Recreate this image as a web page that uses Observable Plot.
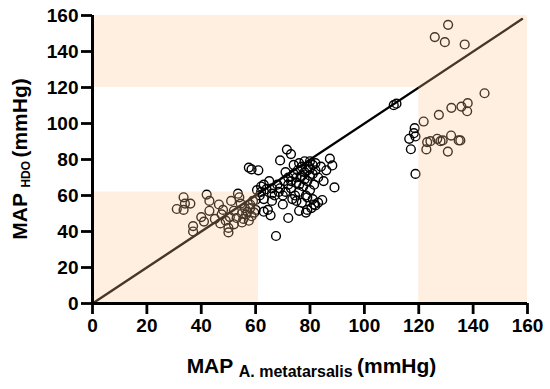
<!DOCTYPE html>
<html><head><meta charset="utf-8">
<script src="https://cdn.jsdelivr.net/npm/d3@7"></script>
<script src="https://cdn.jsdelivr.net/npm/@observablehq/plot@0.6"></script>
<style>
body{margin:0;background:#fff;}
svg{display:block}
</style>
</head><body><div id="chart"></div>
<script>
// MAP A. metatarsalis (x) vs MAP HDO (y), mmHg
const lowerLeftPts = [[31,52.5],[33.5,59],[34,55.5],[33.5,52],[36,55.5],[37,43],[37,40],[40,48],[41,45.5],[42,60.5],[43,57],[43,51.5],[46.5,55],[47,44.5],[47.5,49.5],[49,46],[50,39.5],[50.5,48],[51,57],[52,51.5],[53,47.5],[53.5,61],[54,59],[54.5,55.5],[55,50],[55.5,47],[56,53],[56.5,49.5],[57,51],[57.5,46],[58,53],[58.5,48.5],[59,57],[59.5,50.5],[60,52],[55,45],[52,44],[45,47],[48,52],[50,42],[58,55],[60,57.5]];
const centerPts = [[57.5,75.5],[58.5,74.5],[61,74],[60.5,63],[62,65],[61.5,60],[63,58],[63,51],[64.5,52],[65.5,49],[64,63.5],[66,64],[67.5,37.5],[66,57],[67,60],[68,66],[68.5,62],[69,79.5],[70,55],[70.5,68],[71,62],[71.5,85.5],[72,47.5],[72,70],[73,83],[73,64],[73.5,58],[74,72],[74.5,60],[75,67],[75.5,74],[76,62],[76,51.5],[76.5,70],[77,76],[77.5,65],[78.5,50.5],[78,73],[78.5,60],[79,68],[79.5,76],[80,71],[80,63],[80.5,53],[81,77],[81.5,66],[82,74],[82,54.5],[83,56],[83,70],[84,76],[84.5,57.5],[85,68],[86,74],[87.3,80.5],[88.2,76.7],[89,64.5],[75,57],[77,56],[79,59],[81,58],[74,77],[76,78],[78,79],[80,79],[82,78],[72,66],[70,60],[69,64],[66,61],[62,62],[65,68],[63,66],[79,52],[81.5,55],[77,71],[79,74],[75,70],[73,68],[71,73],[80,75],[78,69],[76,66],[81,72]];
const nearLinePts = [[110.8,110.2],[111.8,111]];
const upperRightPts = [[130.8,154.8],[125.9,148],[129.6,145.2],[136.9,143.9]];
const rightPts = [[144.2,116.8],[132,108.7],[135.7,109.4],[138,111.3],[137.8,106.8],[127.4,104.8],[121.8,101.1],[118.5,97.4],[118.2,94.6],[116.5,91.5],[118.8,92.8],[117.1,85.7],[123.1,89.6],[122.8,85.6],[124.3,90.2],[126.8,91.5],[128,90.2],[128.8,90.6],[131.9,93.3],[134.7,90.6],[135.3,90.6],[130.7,84.4],[118.8,72]];

const xTicks = [0,20,40,60,80,100,120,140,160];
const yTicks = [0,20,40,60,80,100,120,140,160];
const identityX = [0,158];
const zoneX1 = [0,0,120];
const zoneX2 = [61,160,160];
const zoneY1 = [0,120,0];
const zoneY2 = [62,160,120];

const points = [...lowerLeftPts, ...centerPts, ...nearLinePts, ...upperRightPts, ...rightPts].map(([x,y]) => ({x,y}));
const identity = identityX.map(v => ({x:v, y:v}));
const zones = zoneX1.map((_,i) => ({x1:zoneX1[i], x2:zoneX2[i], y1:zoneY1[i], y2:zoneY2[i]}));

const FONT = "'Liberation Sans', Arial, Helvetica, sans-serif";

const plot = Plot.plot({
  width: 550, height: 389,
  marginLeft: 92, marginRight: 23, marginTop: 15, marginBottom: 86,
  style: {fontFamily: FONT, fontSize: "19px", fontWeight: "bold", color: "#000", background: "#fff"},
  x: {domain: [0,160]},
  y: {domain: [0,160]},
  marks: [
    Plot.dot(points, {x:"x", y:"y", r:4.4, stroke:"#000", strokeWidth:1.4, fill:"none"}),
    Plot.line(identity, {x:"x", y:"y", stroke:"#000", strokeWidth:2.4}),
    Plot.rect(zones, {x1:"x1", x2:"x2", y1:"y1", y2:"y2", fill:"rgb(250,196,143)", fillOpacity:0.28}),
    Plot.ruleX([0], {stroke:"#000", strokeWidth:3}),
    Plot.ruleY([0], {stroke:"#000", strokeWidth:3}),
    Plot.axisX({ticks: xTicks, tickSize: 11, tickPadding: 4, strokeWidth: 2.8, label: null, fontSize: 19, fontWeight: "bold"}),
    Plot.axisY({ticks: yTicks, tickSize: 11, tickPadding: 3, strokeWidth: 2.8, label: null, fontSize: 19, fontWeight: "bold"})
  ]
});
document.getElementById("chart").appendChild(plot);

const sx = plot.scale("x"), sy = plot.scale("y");
const svg = d3.select(plot);
const xMid = (sx.apply(0) + sx.apply(160)) / 2;
const yMid = (sy.apply(0) + sy.apply(160)) / 2;

const xt = svg.append("text")
  .attr("x", xMid + 2).attr("y", 373)
  .attr("text-anchor", "middle")
  .attr("font-family", FONT).attr("font-weight", "bold").attr("font-size", 21).attr("fill", "#000");
xt.append("tspan").text("MAP ");
xt.append("tspan").attr("font-size", 16).attr("dy", 4).text("A. metatarsalis ");
xt.append("tspan").attr("dy", -4).text("(mmHg)");

const yt = svg.append("text")
  .attr("transform", `translate(27,${yMid}) rotate(-90)`)
  .attr("text-anchor", "middle")
  .attr("font-family", FONT).attr("font-weight", "bold").attr("font-size", 21).attr("fill", "#000");
yt.append("tspan").text("MAP ");
yt.append("tspan").attr("font-size", 12).attr("dy", 3).text("HDO ");
yt.append("tspan").attr("dy", -3).text("(mmHg)");
</script>
</body></html>
